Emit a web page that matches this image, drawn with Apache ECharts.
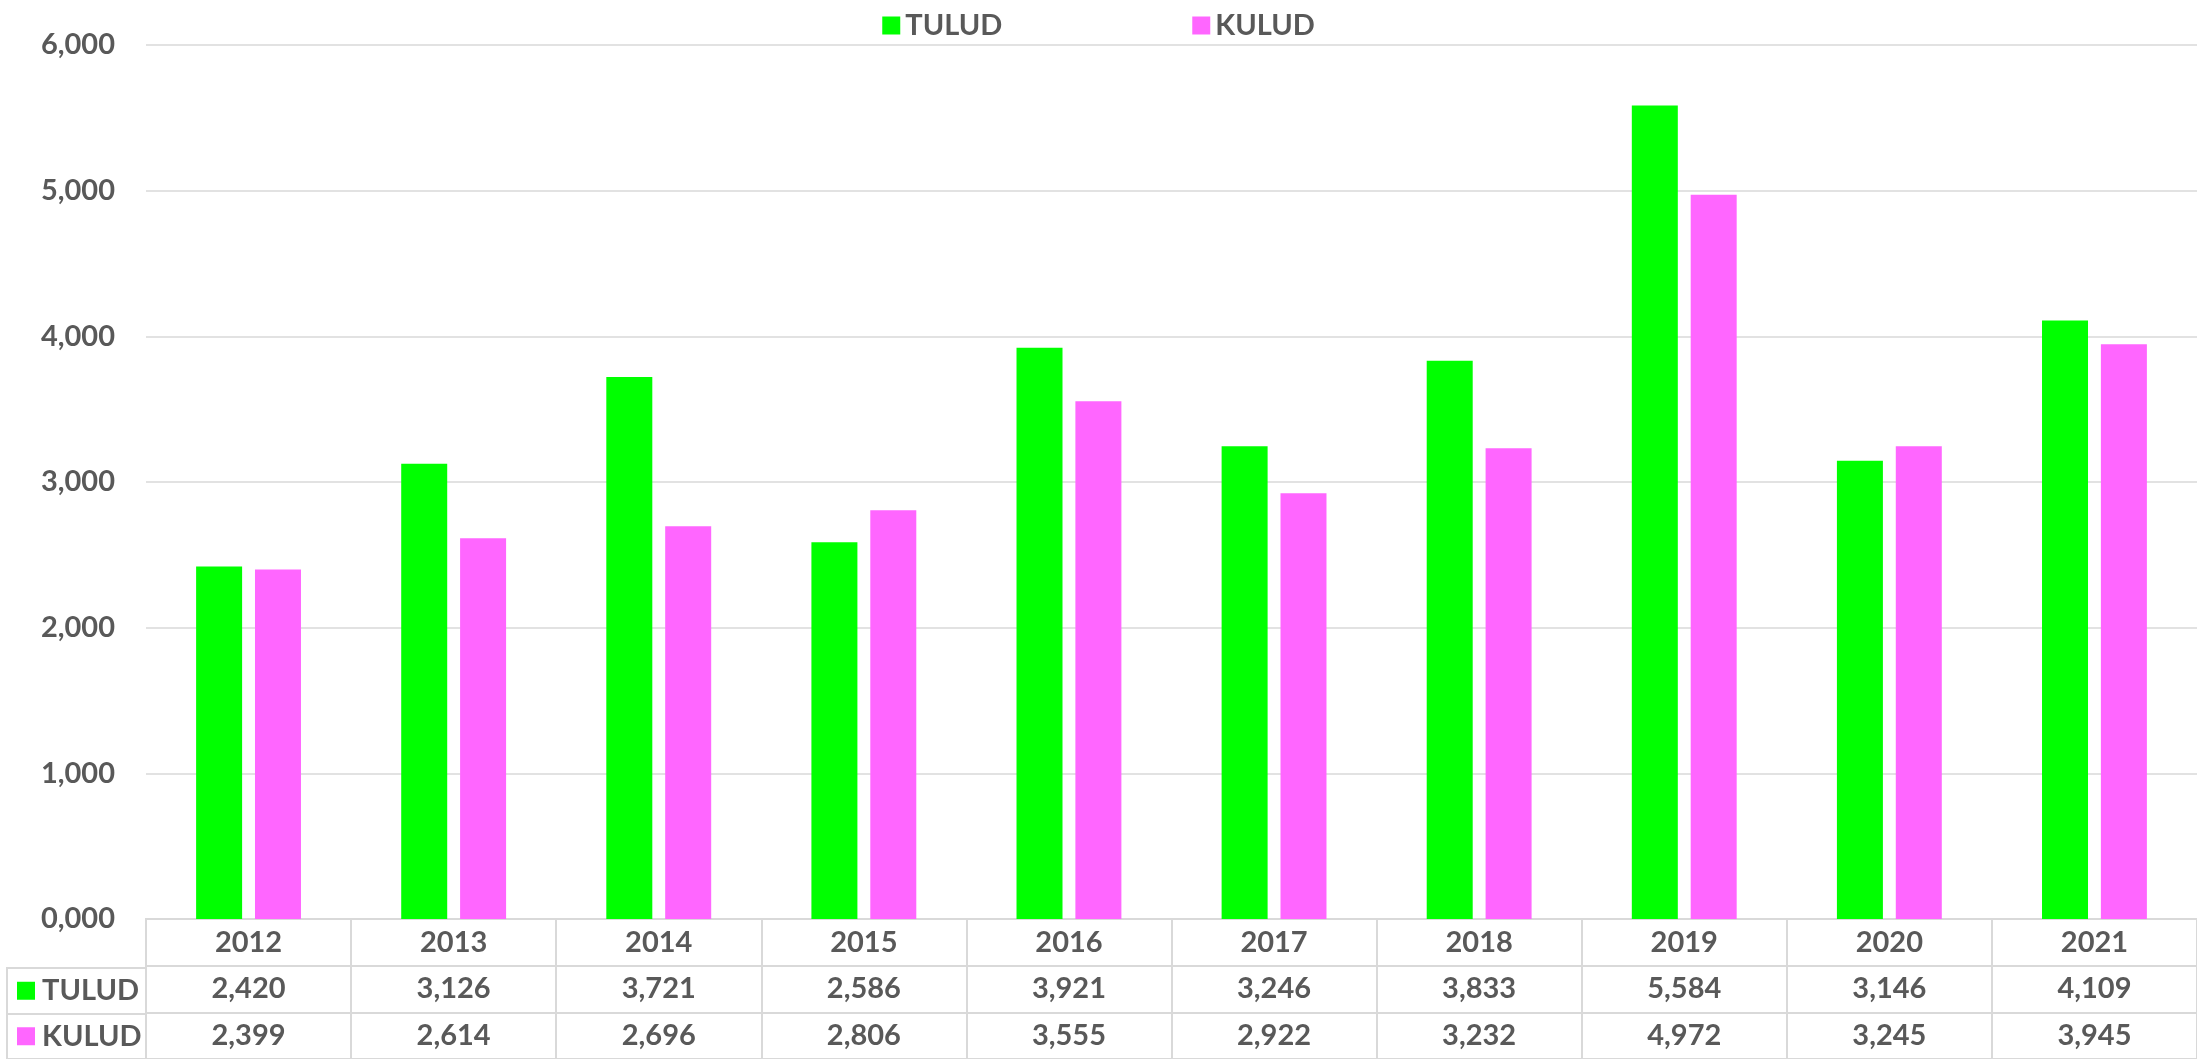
<!DOCTYPE html>
<html>
<head>
<meta charset="utf-8">
<script src="https://cdn.jsdelivr.net/npm/echarts@6/dist/echarts.min.js"></script>
<style>
  html, body { margin: 0; padding: 0; background: #fff; }
  #chart { width: 2197px; height: 1059px; }
</style>
</head>
<body>
<div id="chart"></div>
<script>
const years = ['2012', '2013', '2014', '2015', '2016', '2017', '2018', '2019', '2020', '2021'];
const tulud = [2420, 3126, 3721, 2586, 3921, 3246, 3833, 5584, 3146, 4109];
const kulud = [2399, 2614, 2696, 2806, 3555, 2922, 3232, 4972, 3245, 3945];
const seriesNames = ['TULUD', 'KULUD'];
const seriesColors = ['#00FF00', '#FF66FF'];

const textColor = '#595959';
const lineColor = '#D9D9D9';
const font = { fontFamily: 'Lato', fontWeight: 'bold', fontSize: 29, color: textColor };

// "6,000" / "0,000" style
const yFmt = v => Math.floor(v / 1000) + ',' + String(v % 1000).padStart(3, '0');
const fmt = v => v.toLocaleString('en-US');

// data table cells: row 0 years, row 1 tulud, row 2 kulud
const tableCells = [];
years.forEach((y, i) => {
  tableCells.push([i, 0, y]);
  tableCells.push([i, 1, fmt(tulud[i])]);
  tableCells.push([i, 2, fmt(kulud[i])]);
});

let myChart = echarts.init(document.getElementById('chart'));
myChart.setOption({
  animation: false,
  legend: {
    data: seriesNames,
    top: 6,
    left: 'center',
    icon: 'rect',
    itemWidth: 18,
    itemHeight: 18,
    itemGap: 190,
    textStyle: font
  },
  grid: [
    { left: 146, right: 0, top: 45, height: 874 },
    { left: 146, right: 0, top: 919, height: 147, show: true, borderColor: lineColor, borderWidth: 2 },
    { left: 7, width: 139, top: 968, height: 98, show: true, borderColor: lineColor, borderWidth: 2 }
  ],
  xAxis: [
    { type: 'category', gridIndex: 0, data: years, axisLine: { show: false }, axisTick: { show: false }, axisLabel: { show: false } },
    {
      type: 'category', gridIndex: 1, data: years,
      axisLine: { show: false }, axisTick: { show: false }, axisLabel: { show: false },
      splitLine: { show: true, lineStyle: { color: lineColor, width: 2 } }
    },
    { type: 'value', gridIndex: 2, min: 0, max: 1, show: false }
  ],
  yAxis: [
    {
      type: 'value', gridIndex: 0, min: 0, max: 6000, interval: 1000,
      axisLine: { show: false }, axisTick: { show: false },
      axisLabel: Object.assign({ margin: 31, formatter: yFmt }, font),
      splitLine: { lineStyle: { color: lineColor, width: 1.5 } }
    },
    {
      type: 'category', gridIndex: 1, data: ['', 'TULUD', 'KULUD'], inverse: true,
      axisLine: { show: false }, axisTick: { show: false }, axisLabel: { show: false },
      splitLine: { show: true, lineStyle: { color: lineColor, width: 2 } }
    },
    {
      type: 'category', gridIndex: 2, data: seriesNames, inverse: true,
      axisLine: { show: false }, axisTick: { show: false },
      splitLine: { show: true, lineStyle: { color: lineColor, width: 2 } },
      axisLabel: {
        inside: true,
        margin: 10,
        formatter: (v, i) => '{m' + i + '|}{t|' + v + '}',
        rich: {
          m0: { width: 18, height: 18, backgroundColor: seriesColors[0] },
          m1: { width: 18, height: 18, backgroundColor: seriesColors[1] },
          t: Object.assign({ padding: [0, 0, 0, 7] }, font)
        }
      }
    }
  ],
  series: [
    {
      name: seriesNames[0], type: 'bar', xAxisIndex: 0, yAxisIndex: 0,
      data: tulud, barWidth: 46, barGap: '28%',
      itemStyle: { color: seriesColors[0] }
    },
    {
      name: seriesNames[1], type: 'bar', xAxisIndex: 0, yAxisIndex: 0,
      data: kulud, barWidth: 46, barGap: '28%',
      itemStyle: { color: seriesColors[1] }
    },
    {
      type: 'scatter', xAxisIndex: 1, yAxisIndex: 1, silent: true,
      data: tableCells, symbol: 'rect', symbolSize: 1,
      itemStyle: { color: 'transparent', opacity: 1 },
      label: Object.assign({
        show: true, position: 'inside', formatter: p => p.value[2],
        textBorderWidth: 0
      }, font)
    }
  ]
});
</script>
</body>
</html>
